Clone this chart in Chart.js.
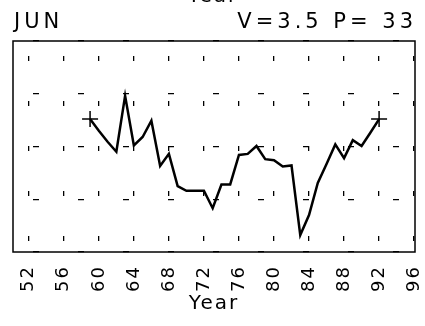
<!DOCTYPE html>
<html>
<head>
<meta charset="utf-8">
<script src="https://cdn.jsdelivr.net/npm/chart.js@4"></script>
<style>
  html, body { margin: 0; padding: 0; background: #fff; }
</style>
</head>
<body>
<canvas id="junChart" width="425" height="326"></canvas>
<script>
var years = [59, 60, 61, 62, 63, 64, 65, 66, 67, 68, 69, 70, 71, 72, 73, 74, 75,
  76, 77, 78, 79, 80, 81, 82, 83, 84, 85, 86, 87, 88, 89, 90, 91, 92];
var values = [2.52, 2.30, 2.09, 1.90, 2.96, 2.02, 2.18, 2.49, 1.63, 1.86, 1.25, 1.16,
  1.16, 1.16, 0.83, 1.28, 1.28, 1.84, 1.86, 2.01, 1.76, 1.74, 1.62, 1.64, 0.32, 0.70,
  1.31, 1.67, 2.04, 1.78, 2.12, 2.01, 2.26, 2.52];
var tickYears = [52, 56, 60, 64, 68, 72, 76, 80, 84, 88, 92, 96];
var monthLabel = "JUN";
var statsLabel = "V=3.5 P= 33";
var axisTitle = "Year";

var points = years.map(function (y, i) { return { x: y, y: values[i] }; });
var last = points.length - 1;
var font = "DejaVu Sans";

// box round the plot area + header texts
var frame = {
  id: "frame",
  beforeDraw: function (chart) {
    chart.ctx.letterSpacing = "2px";
  },
  beforeDatasetsDraw: function (chart) {
    var a = chart.chartArea, c = chart.ctx;
    c.save();
    c.strokeStyle = "#000";
    c.lineWidth = 1.5;
    c.strokeRect(a.left, a.top, a.right - a.left, a.bottom - a.top);
    c.restore();
  },
  afterDraw: function (chart) {
    var c = chart.ctx, a = chart.chartArea;
    c.save();
    c.fillStyle = "#000";
    c.font = "21px '" + font + "'";
    c.letterSpacing = "4px";
    c.textBaseline = "alphabetic";
    c.textAlign = "left";
    c.fillText(monthLabel, a.left + 1, 28);
    c.textAlign = "right";
    c.fillText(statsLabel, a.right + 2, 28);
    c.font = "20px '" + font + "'";
    c.letterSpacing = "2px";
    c.textAlign = "center";
    c.fillText(axisTitle, 213, 2);
    c.restore();
    c.letterSpacing = "0px";
  }
};

var ctx = document.getElementById("junChart").getContext("2d");
var junChart = new Chart(ctx, {
  type: "line",
  data: {
    datasets: [
      {
        data: points,
        borderColor: "#000",
        borderWidth: 2.5,
        tension: 0,
        pointStyle: "cross",
        pointRadius: function (c) { return (c.dataIndex === 0 || c.dataIndex === last) ? 8 : 0; },
        pointBorderColor: "#000",
        pointBorderWidth: 1.5,
      },
    ],
  },
  options: {
    responsive: false,
    animation: false,
    layout: { padding: { top: 41, left: 13, right: 10, bottom: 0 } },
    plugins: { legend: { display: false }, tooltip: { enabled: false } },
    scales: {
      x: {
        type: "linear",
        min: 50.2,
        max: 96.1,
        afterBuildTicks: function (s) { s.ticks = tickYears.map(function (v) { return { value: v }; }); },
        afterFit: function (s) { s.paddingLeft = 0; s.paddingRight = 0; s.height = 74; },
        ticks: {
          minRotation: 90, maxRotation: 90, autoSkip: false, padding: 13,
          color: "#000", font: { family: font, size: 18 },
        },
        grid: { color: "#000", lineWidth: 1.3, drawTicks: false },
        border: { display: false, dash: [5, 40], dashOffset: 30 },
        title: {
          display: true, text: axisTitle, color: "#000",
          font: { family: font, size: 20 }, padding: { top: 0, bottom: 10 },
        },
      },
      y: {
        min: 0,
        max: 4,
        ticks: { display: false, stepSize: 1 },
        grid: { color: "#000", lineWidth: 1.3, drawTicks: false },
        border: { display: false, dash: [6, 39], dashOffset: 25 },
      },
    },
  },
  plugins: [frame],
});
</script>
</body>
</html>
